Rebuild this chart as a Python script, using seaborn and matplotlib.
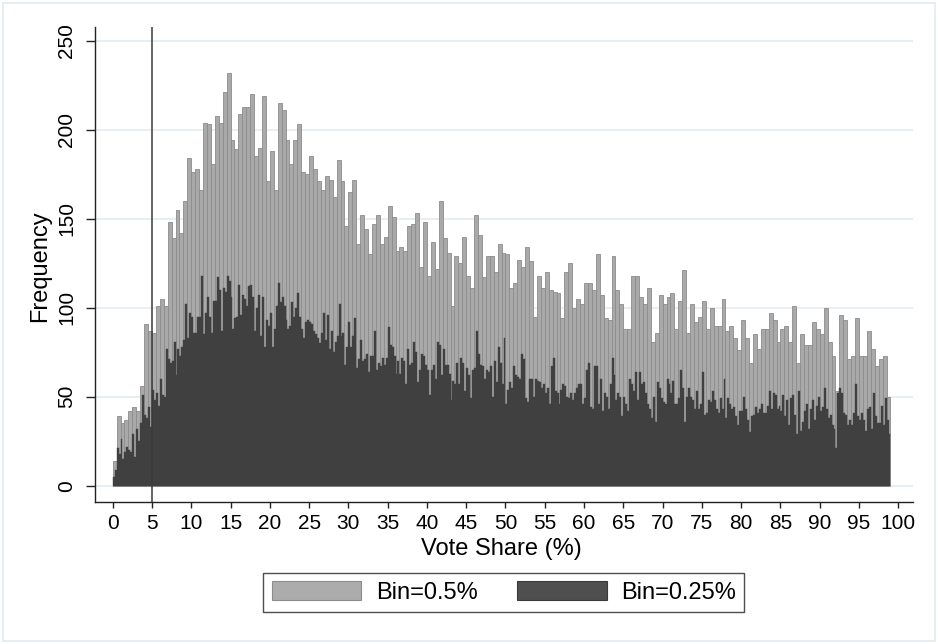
import numpy as np
import pandas as pd
import matplotlib
matplotlib.use("Agg")
import matplotlib.pyplot as plt
from matplotlib.patches import Patch, Rectangle
import seaborn as sns

# ---- data (frequencies) ----
bin_wide = 0.5
bin_narrow = 0.25
freq_wide = [
    14, 39, 35, 37, 42, 44, 42, 56, 91, 87, 86, 101, 105, 101, 148, 139, 155, 142, 160, 184,
    176, 178, 166, 204, 203, 181, 208, 204, 221, 232, 194, 189, 209, 213, 213, 220, 185, 190, 219, 171,
    188, 166, 215, 211, 194, 181, 194, 203, 176, 175, 185, 178, 171, 166, 174, 172, 162, 183, 171, 146,
    165, 172, 136, 152, 144, 130, 147, 152, 136, 140, 157, 151, 132, 134, 132, 146, 147, 153, 123, 148,
    118, 137, 122, 160, 139, 131, 101, 129, 125, 140, 118, 111, 152, 141, 117, 129, 129, 120, 136, 131,
    130, 111, 114, 127, 123, 134, 126, 95, 118, 111, 120, 110, 109, 108, 94, 120, 125, 100, 105, 102,
    114, 114, 110, 130, 107, 94, 93, 129, 110, 102, 88, 88, 118, 118, 106, 102, 111, 81, 86, 107,
    102, 106, 108, 88, 104, 121, 86, 102, 92, 95, 104, 88, 100, 90, 90, 105, 87, 90, 83, 76,
    93, 83, 69, 85, 77, 88, 88, 97, 93, 81, 88, 90, 81, 101, 69, 85, 79, 79, 92, 88,
    85, 100, 81, 73, 53, 96, 93, 71, 73, 94, 73, 73, 87, 77, 67, 71, 73, 50,
]
freq_narrow = [
    5, 9, 21, 18, 26, 15, 19, 22, 20, 19, 29, 16, 32, 25, 35, 51, 40, 38, 44, 33,
    54, 48, 52, 45, 60, 51, 50, 77, 71, 69, 70, 81, 62, 77, 73, 78, 82, 102, 83, 97,
    95, 86, 86, 95, 95, 118, 85, 97, 106, 95, 86, 104, 104, 117, 110, 87, 111, 109, 118, 115,
    106, 88, 94, 95, 113, 96, 107, 105, 101, 112, 113, 106, 87, 100, 107, 84, 106, 78, 93, 90,
    97, 78, 88, 101, 114, 103, 106, 101, 93, 88, 90, 103, 95, 100, 108, 95, 88, 83, 92, 93,
    92, 91, 87, 85, 83, 80, 86, 97, 82, 96, 77, 87, 75, 81, 84, 102, 84, 86, 68, 78,
    92, 78, 84, 94, 66, 71, 82, 70, 71, 74, 64, 73, 73, 87, 65, 69, 67, 72, 68, 72,
    89, 79, 78, 73, 63, 70, 63, 72, 70, 57, 77, 68, 69, 81, 75, 58, 65, 74, 73, 68,
    65, 51, 65, 68, 60, 81, 79, 62, 77, 68, 68, 63, 48, 59, 57, 69, 57, 72, 69, 53,
    66, 62, 49, 65, 66, 87, 74, 68, 67, 60, 65, 64, 67, 50, 70, 58, 78, 69, 57, 83,
    46, 54, 58, 55, 67, 62, 61, 60, 74, 71, 49, 47, 60, 60, 50, 60, 59, 58, 55, 57,
    52, 55, 46, 67, 72, 53, 52, 46, 54, 57, 56, 50, 49, 52, 48, 52, 55, 57, 57, 46,
    49, 65, 69, 44, 43, 67, 67, 46, 60, 42, 52, 50, 43, 57, 72, 62, 48, 52, 50, 39,
    50, 46, 42, 60, 57, 53, 64, 48, 64, 57, 58, 52, 46, 43, 38, 50, 36, 58, 55, 49,
    47, 46, 60, 57, 52, 59, 46, 46, 49, 65, 55, 36, 50, 55, 50, 48, 43, 53, 43, 46,
    64, 40, 41, 48, 47, 53, 48, 43, 41, 49, 43, 60, 38, 49, 46, 43, 44, 39, 34, 42,
    42, 50, 43, 37, 30, 39, 40, 44, 41, 43, 46, 41, 41, 45, 53, 43, 52, 51, 43, 45,
    42, 51, 39, 48, 34, 49, 51, 40, 29, 53, 31, 36, 42, 46, 32, 43, 48, 37, 45, 50,
    42, 44, 55, 43, 38, 40, 34, 32, 21, 52, 55, 52, 41, 40, 34, 37, 34, 41, 57, 39,
    37, 41, 37, 31, 43, 44, 32, 52, 39, 35, 35, 45, 34, 49, 37, 29,
]
legend_labels = ["Bin=0.5%", "Bin=0.25%"]
x_ticks = list(range(0, 101, 5))
y_ticks = [0, 50, 100, 150, 200, 250]
x_label = "Vote Share (%)"
y_label = "Frequency"
cutoff = 5

edges_w = [round(i * bin_wide, 4) for i in range(len(freq_wide) + 1)]
edges_n = [round(i * bin_narrow, 4) for i in range(len(freq_narrow) + 1)]
df_w = pd.DataFrame({"x": np.array(edges_w[:-1]) + bin_wide / 2, "n": freq_wide})
df_n = pd.DataFrame({"x": np.array(edges_n[:-1]) + bin_narrow / 2, "n": freq_narrow})

sns.set_style("white")
plt.rcParams["font.family"] = ["Liberation Sans", "DejaVu Sans"]
plt.rcParams["text.color"] = "#000000"
plt.rcParams["axes.labelcolor"] = "#000000"
plt.rcParams["xtick.color"] = "#000000"
plt.rcParams["ytick.color"] = "#000000"

W, H = 938, 644
fig = plt.figure(figsize=(W / 100, H / 100), dpi=100)
ax = fig.add_axes([95 / W, (H - 502) / H, (912.7 - 95) / W, (502 - 26.7) / H])

light = "#a9a9a9"
dark = "#404040"
sns.histplot(data=df_w, x="x", weights="n", bins=edges_w, ax=ax, color=light,
             edgecolor="#8c8c8c", linewidth=0.6, alpha=1)
sns.histplot(data=df_n, x="x", weights="n", bins=edges_n, ax=ax, color=dark,
             edgecolor=dark, linewidth=0.3, alpha=1)

ax.axvline(cutoff, color="#3a3a3a", lw=1.1, zorder=5)

ax.set_xlim(-2.25, 101.83)
ax.set_ylim(-9.16, 257.9)
ax.set_xticks(x_ticks)
ax.set_yticks(y_ticks)
ax.yaxis.grid(True, color="#e6edf1", lw=1.3)
ax.xaxis.grid(False)
ax.set_axisbelow(True)
for s in ["top", "right"]:
    ax.spines[s].set_visible(False)
for s in ["left", "bottom"]:
    ax.spines[s].set_color("#222222")
    ax.spines[s].set_linewidth(1.0)
ax.tick_params(axis="x", length=4.3, width=1, color="#222222", labelcolor="#000000",
               labelsize=15, pad=4.6, bottom=True)
ax.tick_params(axis="y", length=6.5, width=1, color="#222222", labelcolor="#000000",
               labelsize=15, pad=7, left=True)
for lab in ax.get_yticklabels():
    lab.set_rotation(90)
    lab.set_va("center")
ax.set_xlabel(x_label, fontsize=17, color="#000000")
ax.set_ylabel(y_label, fontsize=17, color="#000000")
ax.xaxis.set_label_coords(0.497, (502 - 538.5) / 475.3)
ax.yaxis.set_label_coords((51.5 - 95) / 817.7, 0.496)

handles = [Patch(facecolor="#acacac", edgecolor="#8c8c8c", lw=0.8),
           Patch(facecolor="#4f4f4f", edgecolor="#3a3a3a", lw=0.8)]
leg = ax.legend(handles, legend_labels, loc="upper center",
                bbox_to_anchor=(503.9 / W, 1 - 573 / H), bbox_transform=fig.transFigure,
                ncol=2, frameon=True, fancybox=False, fontsize=17,
                handlelength=3.8, handleheight=0.85, handletextpad=0.62,
                columnspacing=1.65, borderpad=0.35, borderaxespad=0)
leg.get_frame().set_edgecolor("#222222")
leg.get_frame().set_linewidth(1.0)
for t in leg.get_texts():
    t.set_color("#000000")

fig.patches.append(Rectangle((3 / W, 3 / H), 1 - 6 / W, 1 - 6 / H, transform=fig.transFigure,
                             fill=False, edgecolor="#e3ebef", lw=1.2))

fig.savefig("out.png", dpi=100)
